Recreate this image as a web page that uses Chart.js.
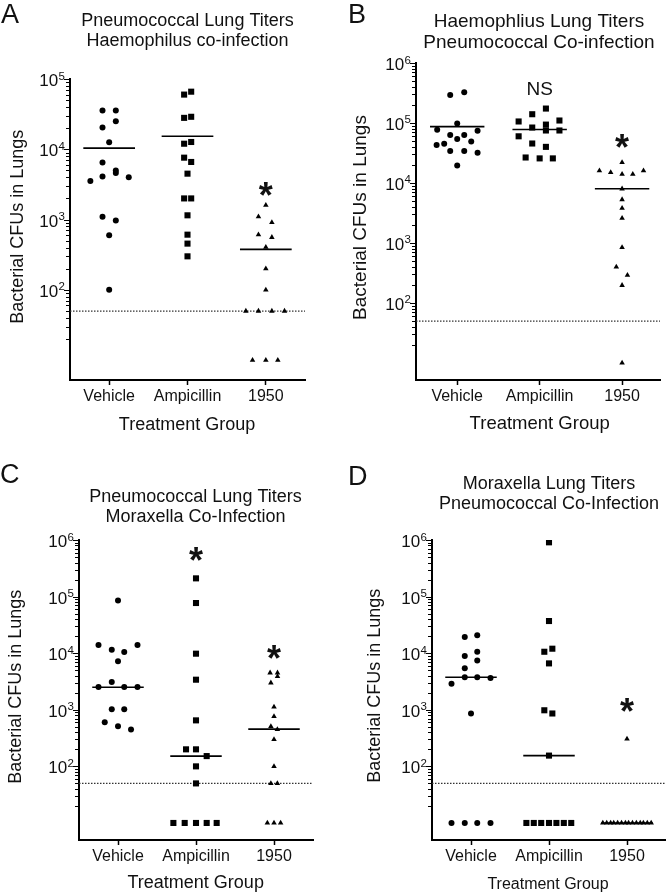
<!DOCTYPE html>
<html><head><meta charset="utf-8">
<script src="https://cdn.jsdelivr.net/npm/chart.js@4.4.0/dist/chart.umd.min.js"></script>
<style>
html,body{margin:0;padding:0;background:#fff}
body{width:666px;height:894px;position:relative;overflow:hidden}
canvas{position:absolute;display:block}
</style></head><body>
<canvas id="cA" width="333" height="450" style="left:0;top:0"></canvas>
<canvas id="cB" width="333" height="450" style="left:333px;top:0"></canvas>
<canvas id="cC" width="333" height="444" style="left:0;top:450px"></canvas>
<canvas id="cD" width="333" height="444" style="left:333px;top:450px"></canvas>
<script>
// ---------- DATA ----------
const groups = ['Vehicle', 'Ampicillin', '1950'];
const detectionLimit = 50;

// Panel A: Pneumococcal lung titers, Haemophilus co-infection
const aVehicle = [35500, 35500, 20400, 25000, 12600, 6500, 5000, 4600, 4100, 3550, 4000, 1100, 970, 600, 100];
const aVehicleJitter = [-0.085, 0.085, -0.085, 0.085, 0, -0.085, 0.085, 0.085, -0.085, -0.24, 0.25, -0.085, 0.085, 0, 0];
const aAmpicillin = [60000, 66000, 28000, 29000, 12000, 12700, 7600, 6600, 4500, 2000, 2000, 1150, 610, 455, 300];
const aAmpicillinJitter = [-0.043, 0.047, -0.043, 0.047, -0.043, 0.047, -0.043, 0.047, 0, -0.043, 0.047, 0, 0, 0, 0];
const a1950 = [1600, 1100, 910, 610, 560, 405, 200, 100, 50, 50, 50, 50, 10, 10, 10];
const a1950Jitter = [0, -0.094, 0.077, -0.094, 0.077, 0, 0, 0, -0.255, -0.094, 0.077, 0.238, -0.17, 0, 0.153];
const aMedians = [10400, 15300, 377];

// Panel B: Haemophilus lung titers, Pneumococcal co-infection
const bVehicle = [293000, 325000, 98000, 77000, 74000, 63000, 63000, 45000, 43000, 54000, 49000, 34000, 34000, 32000, 19500];
const bVehicleJitter = [-0.085, 0.085, 0, -0.243, 0.247, -0.085, 0.085, -0.158, -0.25, 0, 0.17, -0.085, 0.085, 0.247, 0];
const bAmpicillin = [174000, 140000, 106000, 110000, 84000, 94000, 75000, 75000, 60000, 45500, 40000, 26600, 25700, 25700];
const bAmpicillinJitter = [0.076, -0.09, -0.255, 0.24, -0.09, 0.076, 0.076, 0.24, -0.255, -0.09, 0.076, -0.17, 0, 0.16];
const b1950 = [22000, 16000, 15000, 14000, 14000, 16000, 8000, 5300, 3800, 2600, 840, 400, 290, 197, 10];
const b1950Jitter = [0, -0.275, -0.138, 0, 0.13, 0.26, 0, 0, 0, 0, 0, -0.07, 0.065, 0, 0];
const bMedians = [87000, 78000, 8000];

// Panel C: Pneumococcal lung titers, Moraxella co-infection
const cVehicle = [85000, 14000, 14000, 11500, 10500, 7200, 3100, 2530, 2530, 2530, 1020, 1020, 600, 510, 450];
const cVehicleJitter = [0, -0.25, 0.25, -0.08, 0.08, 0, -0.08, -0.25, 0.08, 0.25, -0.08, 0.08, -0.17, 0, 0.167];
const cAmpicillin = [210000, 77000, 9800, 3400, 650, 200, 200, 152, 100, 50, 10, 10, 10, 10, 10];
const cAmpicillinJitter = [0, 0, 0, 0, 0, -0.128, 0, 0.137, 0, 0, -0.29, -0.145, 0, 0.137, 0.265];
const c1950 = [4500, 4500, 3900, 3000, 1120, 760, 510, 450, 300, 100, 50, 50, 10, 10, 10];
const c1950Jitter = [-0.05, 0.045, 0.045, -0.04, 0, 0, -0.04, 0.043, 0, 0, -0.04, 0.043, -0.085, 0, 0.085];
const cMedians = [2500, 152, 455];

// Panel D: Moraxella lung titers, Pneumococcal co-infection
const dVehicle = [19400, 20800, 8900, 10600, 7400, 5400, 3760, 3760, 3650, 2870, 860, 10, 10, 10, 10];
const dVehicleJitter = [-0.08, 0.08, -0.08, 0.08, 0.08, -0.08, -0.08, 0.08, 0.25, -0.25, 0, -0.25, -0.08, 0.08, 0.25];
const dAmpicillin = [910000, 37000, 10600, 12000, 6600, 980, 860, 155, 10, 10, 10, 10, 10, 10, 10];
const dAmpicillinJitter = [0, 0, -0.06, 0.043, 0, -0.06, 0.043, 0, -0.29, -0.195, -0.1, 0, 0.095, 0.19, 0.285];
const d1950 = [305, 10, 10, 10, 10, 10, 10, 10, 10, 10, 10, 10, 10, 10, 10];
const d1950Jitter = [0, -0.31, -0.26, -0.21, -0.17, -0.12, -0.07, -0.02, 0.02, 0.07, 0.12, 0.17, 0.21, 0.26, 0.31];
const dMedians = [3760, 155, 10];

// ---------- RENDERING ----------
const FONT = '"Liberation Sans", Arial, Helvetica, sans-serif';
const INK = '#111';

const decorPlugin = {
  id: 'panelDecor',
  afterDraw(chart, args, o) {
    const ctx = chart.ctx, ys = chart.scales.y, xs = chart.scales.x, area = chart.chartArea;
    ctx.save();
    // y-axis ticks (log minor + major) drawn at the scale's own pixel positions
    ctx.strokeStyle = '#000';
    ctx.lineWidth = 1;
    for (let dec = 10; dec < o.yMax; dec *= 10) {
      for (let m = 2; m <= 10; m++) {
        const v = dec * m;
        if (v > o.yMax * 1.0001) continue;
        const major = (m === 10);
        const py = Math.round(ys.getPixelForValue(v)) + 0.5;
        const len = major ? 5 : 3;
        ctx.beginPath();
        ctx.moveTo(area.left - 1 - len, py);
        ctx.lineTo(area.left - 1, py);
        ctx.stroke();
      }
    }
    // y tick labels 10^n
    ctx.fillStyle = INK;
    ctx.textAlign = 'right';
    ctx.textBaseline = 'alphabetic';
    for (let e = 2; Math.pow(10, e) <= o.yMax * 1.0001; e++) {
      const py = ys.getPixelForValue(Math.pow(10, e));
      const xr = area.left - 5;
      ctx.font = '11.5px ' + FONT;
      const sup = String(e);
      const w = ctx.measureText(sup).width;
      ctx.fillText(sup, xr, py + 0.5);
      ctx.font = '17px ' + FONT;
      ctx.fillText('10', xr - w - 0.5, py + 7);
    }
    // panel letter
    ctx.textAlign = 'left';
    ctx.font = o.letter.size + 'px ' + FONT;
    ctx.fillText(o.letter.text, o.letter.x, o.letter.y);
    // title lines
    ctx.textAlign = 'center';
    ctx.font = o.title.size + 'px ' + FONT;
    o.title.lines.forEach((t, i) => ctx.fillText(t, o.title.x, o.title.y[i]));
    // x-axis title
    ctx.font = o.xTitle.size + 'px ' + FONT;
    ctx.fillText(o.xTitle.text, o.xTitle.x, o.xTitle.y);
    // y-axis title (rotated)
    ctx.save();
    ctx.translate(o.yTitle.x, o.yTitle.y);
    ctx.rotate(-Math.PI / 2);
    ctx.font = o.yTitle.size + 'px ' + FONT;
    ctx.fillText(o.yTitle.text, 0, 0);
    ctx.restore();
    // significance marks anchored to category / value
    (o.marks || []).forEach(m => {
      const px = xs.getPixelForValue(m.cat);
      const py = ys.getPixelForValue(m.value);
      ctx.font = (m.bold ? 'bold ' : '') + m.size + 'px ' + FONT;
      ctx.fillText(m.text, px, py + m.size * m.dy);
    });
    ctx.restore();
  }
};
Chart.register(decorPlugin);

function pts(values, jitter, cat) {
  return values.map((v, i) => ({x: cat + jitter[i], y: v}));
}

function makePanel(id, cfg) {
  const canvas = document.getElementById(id);
  const W = canvas.width, H = canvas.height;
  const styles = ['circle', 'rect', 'triangle'];
  const radii = [3, 4.3, 3.2];
  const ds = [];
  cfg.series.forEach((s, k) => ds.push({
    data: pts(s[0], s[1], k), showLine: false,
    pointStyle: styles[k], pointRadius: radii[k],
    pointBackgroundColor: '#000', pointBorderWidth: 0, borderWidth: 0
  }));
  cfg.medians.forEach((m, k) => ds.push({
    data: [{x: k - 0.33, y: m}, {x: k + 0.33, y: m}], showLine: true,
    pointRadius: 0, borderColor: '#000', borderWidth: 1.6
  }));
  ds.push({
    data: [{x: -0.5, y: detectionLimit}, {x: cfg.xMax, y: detectionLimit}], showLine: true,
    pointRadius: 0, borderColor: '#333', borderWidth: 1.2, borderDash: [1.5, 1.5]
  });
  const a = cfg.area;
  new Chart(canvas, {
    type: 'scatter',
    data: {datasets: ds},
    options: {
      responsive: false, animation: false, events: [],
      layout: {autoPadding: false, padding: {top: a.top, right: W - a.right, left: 0, bottom: 0}},
      plugins: {
        legend: {display: false}, tooltip: {enabled: false},
        panelDecor: Object.assign({yMax: cfg.yMax}, cfg.decor)
      },
      scales: {
        x: {
          type: 'linear', min: -0.5, max: cfg.xMax,
          afterFit: s => { s.height = H - a.bottom; },
          afterBuildTicks: s => { s.ticks = [0, 1, 2].map(v => ({value: v})); },
          ticks: {callback: v => groups[v], font: {family: FONT, size: 16}, color: INK, padding: 2, autoSkip: false, maxRotation: 0},
          grid: {display: true, drawOnChartArea: false, drawTicks: true, tickLength: 5, tickWidth: 1.5, tickColor: '#000'},
          border: {display: true, width: 2, color: '#000'}
        },
        y: {
          type: 'logarithmic', min: cfg.yMin, max: cfg.yMax,
          afterFit: s => { s.width = a.left; },
          ticks: {display: false},
          grid: {display: false},
          border: {display: true, width: 2, color: '#000'}
        }
      }
    }
  });
}

const yTitle = 'Bacterial CFUs in Lungs';
const xTitle = 'Treatment Group';
const star = {text: '*', bold: true, size: 36, dy: 0.56};

makePanel('cA', {
  series: [[aVehicle, aVehicleJitter], [aAmpicillin, aAmpicillinJitter], [a1950, a1950Jitter]],
  medians: aMedians, yMin: 5.22, yMax: 1e5, xMax: 2.5,
  area: {left: 70, top: 79, right: 305, bottom: 380},
  decor: {
    letter: {text: 'A', x: 1, y: 23.3, size: 27},
    title: {lines: ['Pneumococcal Lung Titers', 'Haemophilus co-infection'], x: 187.5, y: [26, 45.7], size: 18},
    yTitle: {text: yTitle, x: 22.7, y: 226.7, size: 18},
    xTitle: {text: xTitle, x: 187, y: 429.5, size: 18},
    marks: [Object.assign({cat: 2, value: 2870}, star)]
  }
});

makePanel('cB', {
  series: [[bVehicle, bVehicleJitter], [bAmpicillin, bAmpicillinJitter], [b1950, b1950Jitter]],
  medians: bMedians, yMin: 5.2, yMax: 1e6, xMax: 2.46,
  area: {left: 83, top: 63, right: 327, bottom: 380},
  decor: {
    letter: {text: 'B', x: 15, y: 23.3, size: 27},
    title: {lines: ['Haemophlius Lung Titers', 'Pneumococcal Co-infection'], x: 206, y: [26.7, 48.3], size: 19},
    yTitle: {text: yTitle, x: 33, y: 217.5, size: 19},
    xTitle: {text: xTitle, x: 206.7, y: 429.3, size: 18.5},
    marks: [
      {text: 'NS', cat: 1, value: 376000, size: 19, bold: false, dy: 0.36},
      Object.assign({cat: 2, value: 51700}, star)
    ]
  }
});

makePanel('cC', {
  series: [[cVehicle, cVehicleJitter], [cAmpicillin, cAmpicillinJitter], [c1950, c1950Jitter]],
  medians: cMedians, yMin: 5.0, yMax: 1e6, xMax: 2.5,
  area: {left: 79, top: 90, right: 313, bottom: 390},
  decor: {
    letter: {text: 'C', x: 0, y: 33.3, size: 27},
    title: {lines: ['Pneumococcal Lung Titers', 'Moraxella Co-Infection'], x: 195.5, y: [52.3, 71.7], size: 18},
    yTitle: {text: yTitle, x: 20.5, y: 236.7, size: 18},
    xTitle: {text: xTitle, x: 195.7, y: 437.7, size: 18},
    marks: [
      Object.assign({cat: 1, value: 600000}, star),
      Object.assign({cat: 2, value: 11000}, star)
    ]
  }
});

makePanel('cD', {
  series: [[dVehicle, dVehicleJitter], [dAmpicillin, dAmpicillinJitter], [d1950, d1950Jitter]],
  medians: dMedians, yMin: 5.0, yMax: 1e6, xMax: 2.5,
  area: {left: 99, top: 90, right: 333, bottom: 390},
  decor: {
    letter: {text: 'D', x: 15, y: 35, size: 27},
    title: {lines: ['Moraxella Lung Titers', 'Pneumococcal Co-Infection'], x: 216, y: [39, 59.3], size: 18},
    yTitle: {text: yTitle, x: 46.5, y: 235.8, size: 18},
    xTitle: {text: xTitle, x: 215, y: 439.3, size: 16},
    marks: [Object.assign({cat: 2, value: 1290}, star)]
  }
});
</script>
</body></html>
